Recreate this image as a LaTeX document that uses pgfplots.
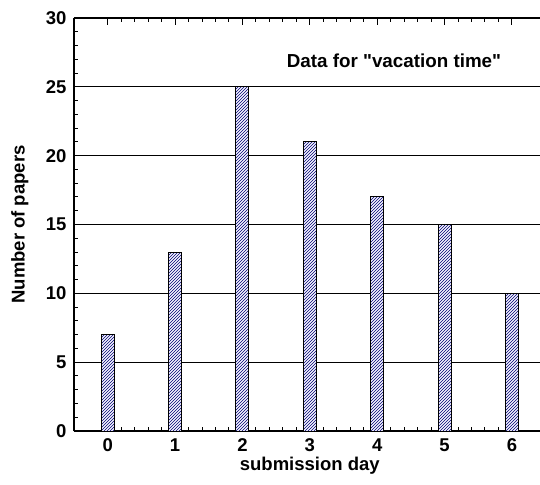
\documentclass[border=0pt]{standalone}
\usepackage{pgfplots}
\pgfplotsset{compat=1.18}
\usetikzlibrary{patterns}
\usepackage{fontspec}
\setmainfont{Liberation Sans}[Ligatures=TeXOff]
\begin{document}
\begin{tikzpicture}
\begin{axis}[
  at={(0pt,0pt)}, anchor=south west,
  scale only axis,
  width=471.6pt, height=413pt,
  xmin=-0.5, xmax=6.5, ymin=0, ymax=30,
  axis x line*=box, axis y line*=left,
  xtick={0,1,2,3,4,5,6},
  ytick={0,5,10,15,20,25,30},
  minor x tick num=4,
  minor y tick num=4,
  tick align=inside,
  major tick length=7pt,
  minor tick length=4pt,
  xtick pos=both, ytick pos=left,
  ymajorgrids,
  grid style={black, line width=0.9pt},
  axis line style={line width=1.4pt, -},
  tick style={black, line width=1pt},
  /pgf/number format/assume math mode=true,
  ticklabel style={font=\fontsize{18.5}{21}\selectfont\bfseries},
  xticklabel style={yshift=-4pt},
  yticklabel style={xshift=-4pt},
  xlabel={submission day},
  ylabel={Number of papers},
  label style={font=\fontsize{18.5}{21}\selectfont\bfseries},
  xlabel style={at={(axis description cs:0.5,-0.0847)}, anchor=center},
  ylabel style={at={(axis description cs:-0.115,0.5)}, anchor=center},
  clip=false,
]
\addplot[ybar, bar width=13pt, draw=black, line width=1pt, fill=blue!4,
  postaction={pattern=north east lines, pattern color=blue!45!black}]
  coordinates {(0,7) (1,13) (2,25) (3,21) (4,17) (5,15) (6,10)};
\node[font=\fontsize{18.8}{21}\selectfont\bfseries] at (axis cs:4.25,26.9) {Data for "vacation time"};
\end{axis}
\pgfresetboundingbox
\path[use as bounding box] (-74pt,-53pt) rectangle (466pt,431pt);
\end{tikzpicture}
\end{document}
